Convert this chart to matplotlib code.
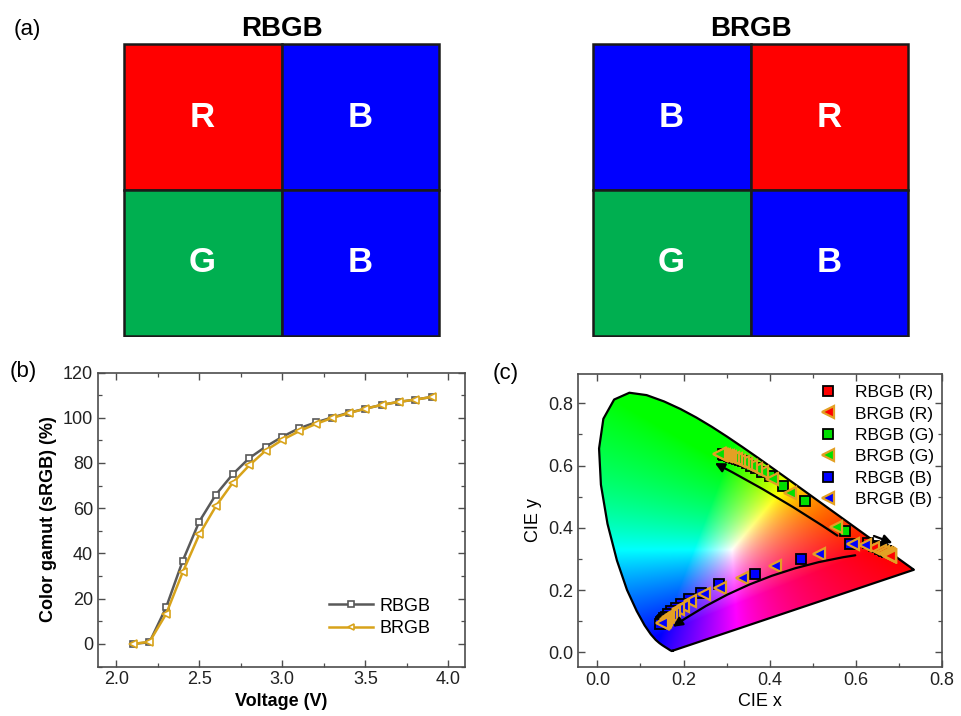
import numpy as np
import matplotlib
matplotlib.use("Agg")
import matplotlib.pyplot as plt
from matplotlib.patches import Rectangle, Polygon, FancyArrowPatch
from matplotlib.ticker import MultipleLocator

plt.rcParams['font.family'] = ['Liberation Sans', 'DejaVu Sans']

# --- (a) pixel layouts ---
layout_titles = ["RBGB", "BRGB"]
layout_cells = [[["R", "B"], ["G", "B"]],
                [["B", "R"], ["G", "B"]]]
cell_colors = {"R": "#FF0000", "G": "#00AF50", "B": "#0000FF"}

# --- (b) color gamut vs voltage ---
voltage = [2.1, 2.2, 2.3, 2.4, 2.5, 2.6, 2.7, 2.8, 2.9, 3.0,
           3.1, 3.2, 3.3, 3.4, 3.5, 3.6, 3.7, 3.8, 3.9]
gamut_rbgb = [0.0, 0.7, 16.1, 36.7, 54.1, 66.0, 74.9, 82.1, 87.2, 91.6,
              95.3, 97.9, 100.1, 102.2, 104.0, 105.7, 107.0, 108.0, 109.2]
gamut_brgb = [0.0, 0.9, 13.2, 31.7, 48.4, 60.9, 71.1, 78.9, 85.5, 90.2,
              94.0, 97.2, 99.9, 102.0, 104.0, 105.7, 107.0, 108.0, 109.2]

# --- (c) CIE 1931 spectral locus, 380-700 nm ---
locus_x = [0.1741, 0.1740, 0.1738, 0.1736, 0.1733, 0.1730, 0.1726, 0.1721, 0.1714,
           0.1703, 0.1689, 0.1669, 0.1644, 0.1611, 0.1566, 0.1510, 0.1440, 0.1355,
           0.1241, 0.1096, 0.0913, 0.0687, 0.0454, 0.0235, 0.0082, 0.0039, 0.0139,
           0.0389, 0.0743, 0.1142, 0.1547, 0.1929, 0.2296, 0.2658, 0.3016, 0.3373,
           0.3731, 0.4087, 0.4441, 0.4788, 0.5125, 0.5448, 0.5752, 0.6029, 0.6270,
           0.6482, 0.6658, 0.6801, 0.6915, 0.7006, 0.7079, 0.7140, 0.7190, 0.7230,
           0.7260, 0.7283, 0.7300, 0.7311, 0.7320, 0.7327, 0.7334, 0.7340, 0.7344,
           0.7346, 0.7347]
locus_y = [0.0050, 0.0050, 0.0049, 0.0049, 0.0048, 0.0048, 0.0048, 0.0048, 0.0051,
           0.0058, 0.0069, 0.0086, 0.0109, 0.0138, 0.0177, 0.0227, 0.0297, 0.0399,
           0.0578, 0.0868, 0.1327, 0.2007, 0.2950, 0.4127, 0.5384, 0.6548, 0.7502,
           0.8120, 0.8338, 0.8262, 0.8059, 0.7816, 0.7543, 0.7243, 0.6923, 0.6589,
           0.6245, 0.5896, 0.5547, 0.5202, 0.4866, 0.4544, 0.4242, 0.3965, 0.3725,
           0.3514, 0.3340, 0.3197, 0.3083, 0.2993, 0.2920, 0.2859, 0.2809, 0.2770,
           0.2740, 0.2717, 0.2700, 0.2689, 0.2680, 0.2673, 0.2666, 0.2660, 0.2656,
           0.2654, 0.2653]

# chromaticity of each sub-pixel with increasing voltage
rbgb_r_x = [0.628, 0.641, 0.650, 0.656, 0.660, 0.663, 0.665, 0.667, 0.668,
            0.669, 0.670, 0.671, 0.672, 0.672, 0.673, 0.673, 0.674]
rbgb_r_y = [0.350, 0.342, 0.337, 0.333, 0.331, 0.329, 0.327, 0.326, 0.325,
            0.325, 0.324, 0.324, 0.323, 0.323, 0.322, 0.322, 0.322]
brgb_r_x = [0.640, 0.656, 0.664, 0.669, 0.672, 0.674, 0.675, 0.676, 0.677,
            0.677, 0.678, 0.678, 0.679, 0.679, 0.679, 0.680, 0.680]
brgb_r_y = [0.334, 0.325, 0.321, 0.318, 0.316, 0.315, 0.314, 0.313, 0.312,
            0.312, 0.311, 0.311, 0.311, 0.310, 0.310, 0.310, 0.310]
rbgb_g_x = [0.574, 0.482, 0.432, 0.400, 0.382, 0.368, 0.357, 0.347, 0.338,
            0.330, 0.323, 0.317, 0.311, 0.306, 0.302, 0.298, 0.295, 0.292]
rbgb_g_y = [0.391, 0.486, 0.534, 0.567, 0.580, 0.591, 0.600, 0.607, 0.613,
            0.618, 0.622, 0.625, 0.628, 0.631, 0.633, 0.634, 0.635, 0.636]
brgb_g_x = [0.553, 0.447, 0.405, 0.382, 0.368, 0.356, 0.346, 0.337, 0.329, 0.322,
            0.315, 0.309, 0.303, 0.298, 0.294, 0.290, 0.287, 0.284, 0.282]
brgb_g_y = [0.402, 0.511, 0.556, 0.578, 0.589, 0.598, 0.605, 0.611, 0.616, 0.620,
            0.624, 0.627, 0.630, 0.632, 0.633, 0.634, 0.635, 0.636, 0.637]
rbgb_b_x = [0.586, 0.473, 0.365, 0.282, 0.241, 0.212, 0.195, 0.182, 0.172,
            0.165, 0.159, 0.155, 0.152, 0.150, 0.148, 0.147, 0.146]
rbgb_b_y = [0.347, 0.300, 0.252, 0.219, 0.191, 0.171, 0.156, 0.143, 0.132,
            0.123, 0.115, 0.109, 0.104, 0.100, 0.096, 0.093, 0.091]
brgb_b_x = [0.621, 0.594, 0.514, 0.413, 0.335, 0.285, 0.247, 0.216, 0.198,
            0.186, 0.177, 0.170, 0.164, 0.160, 0.157, 0.154, 0.152, 0.150]
brgb_b_y = [0.345, 0.348, 0.315, 0.278, 0.240, 0.208, 0.186, 0.165, 0.150,
            0.138, 0.128, 0.120, 0.113, 0.107, 0.102, 0.098, 0.095, 0.093]

# shift arrows: (start, end, curvature)
shift_arrows = [((0.5625, 0.370), (0.267, 0.612), 0.03),
                ((0.605, 0.313), (0.170, 0.077), 0.12),
                ((0.636, 0.377), (0.691, 0.348), 0.0)]

SPINE = "#4d4d4d"
GOLD = "#D8A31A"
ORANGE_EDGE = "#E3A024"

fig = plt.figure(figsize=(9.61, 7.16), dpi=100)
W, H = 961.0, 716.0


def px_axes(l, t, r, b):
    return fig.add_axes([l / W, 1 - b / H, (r - l) / W, (b - t) / H])


# ---------------- (a) ----------------
for k, (l, r) in enumerate([(122, 441), (591, 910)]):
    ax = px_axes(l, 43, r, 337)
    cells = layout_cells[k]
    for i in range(2):
        for j in range(2):
            lab = cells[i][j]
            ax.add_patch(Rectangle((j, 1 - i), 1, 1, facecolor=cell_colors[lab],
                                   edgecolor="#1a1a1a", lw=1.8))
            ax.text(j + 0.5, 1.5 - i, lab, color="white", fontsize=25,
                    fontweight="bold", ha="center", va="center")
    ax.set_xlim(-0.01, 2.01)
    ax.set_ylim(-0.01, 2.01)
    ax.axis("off")
    ax.set_title(layout_titles[k], fontsize=20, fontweight="bold", pad=5)

fig.text(14 / W, 1 - 30 / H, "(a)", fontsize=16, va="center", ha="left")


def style_axes(ax):
    for s in ax.spines.values():
        s.set_color(SPINE)
        s.set_linewidth(1.2)
    ax.tick_params(which="both", direction="in", top=True, right=True,
                   color=SPINE, labelsize=13, labelcolor="#222222")
    ax.tick_params(which="major", length=5, width=1.0)
    ax.tick_params(which="minor", length=3, width=0.9)


# ---------------- (b) ----------------
axb = px_axes(98, 372.5, 465, 666.5)
axb.plot(voltage, gamut_rbgb, color="#595959", lw=1.8, marker="s", ms=5,
         mfc="white", mec="#595959", mew=1.2, label="RBGB")
axb.plot(voltage, gamut_brgb, color=GOLD, lw=1.8, marker="<", ms=6,
         mfc="white", mec=GOLD, mew=1.2, label="BRGB")
axb.set_xlim(1.89, 4.1)
axb.set_ylim(-10, 120)
axb.xaxis.set_major_locator(MultipleLocator(0.5))
axb.xaxis.set_minor_locator(MultipleLocator(0.25))
axb.yaxis.set_major_locator(MultipleLocator(20))
axb.yaxis.set_minor_locator(MultipleLocator(10))
axb.xaxis.set_major_formatter(matplotlib.ticker.FormatStrFormatter("%.1f"))
style_axes(axb)
axb.set_xlabel("Voltage (V)", fontsize=13, fontweight="bold", labelpad=3)
axb.set_ylabel("Color gamut (sRGB) (%)", fontsize=13, fontweight="bold", labelpad=4)
axb.legend(loc="center left", frameon=False, fontsize=13, handlelength=2.45,
           handletextpad=0.35, labelspacing=0.3, borderpad=0, borderaxespad=0,
           markerscale=0.8, bbox_to_anchor=(0.629, 0.167))
fig.text(10 / W, 1 - 372 / H, "(b)", fontsize=16, va="center", ha="left")

# ---------------- (c) ----------------
axc = px_axes(578, 374, 942, 667)

gx = np.linspace(0.0, 0.75, 500)
gy = np.linspace(0.001, 0.85, 560)
XX, YY = np.meshgrid(gx, gy)
Xc = XX / YY
Zc = (1 - XX - YY) / YY
M = np.array([[3.2406, -1.5372, -0.4986],
              [-0.9689, 1.8758, 0.0415],
              [0.0557, -0.2040, 1.0570]])
rgb = np.stack([M[i, 0] * Xc + M[i, 1] + M[i, 2] * Zc for i in range(3)], axis=-1)
rgb = np.clip(rgb, 0, None)
rgb = rgb / np.maximum(rgb.max(axis=-1, keepdims=True), 1e-9)
rgb = np.clip(rgb, 0, 1) ** 0.8

im = axc.imshow(rgb, origin="lower", extent=[gx[0], gx[-1], gy[0], gy[-1]],
                aspect="auto", interpolation="bilinear", zorder=1)
horseshoe = Polygon(np.column_stack([locus_x, locus_y]), closed=True,
                    transform=axc.transData, facecolor="none")
axc.add_patch(horseshoe)
im.set_clip_path(horseshoe)
axc.plot(locus_x + [locus_x[0]], locus_y + [locus_y[0]], color="black", lw=1.6,
         zorder=2)

sq = dict(ls="none", marker="s", ms=6.5, mec="black", mew=1.3, zorder=4)
tri = dict(ls="none", marker="<", ms=8.5, mec=ORANGE_EDGE, mew=1.6, zorder=4)
axc.plot(rbgb_r_x, rbgb_r_y, mfc="#FF0000", label="RBGB (R)", **sq)
axc.plot(brgb_r_x, brgb_r_y, mfc="#FF0000", label="BRGB (R)", **tri)
axc.plot(rbgb_g_x, rbgb_g_y, mfc="#00E000", label="RBGB (G)", **sq)
axc.plot(brgb_g_x, brgb_g_y, mfc="#00E000", label="BRGB (G)", **tri)
axc.plot(rbgb_b_x, rbgb_b_y, mfc="#0000FF", label="RBGB (B)", **sq)
axc.plot(brgb_b_x, brgb_b_y, mfc="#0000FF", label="BRGB (B)", **tri)

for start, end, rad in shift_arrows:
    axc.add_patch(FancyArrowPatch(start, end, arrowstyle="-|>", mutation_scale=14,
                                  connectionstyle=f"arc3,rad={rad}", lw=1.6,
                                  color="black", zorder=5))

axc.set_xlim(-0.045, 0.8)
axc.set_ylim(-0.047, 0.894)
axc.xaxis.set_major_locator(MultipleLocator(0.2))
axc.xaxis.set_minor_locator(MultipleLocator(0.1))
axc.yaxis.set_major_locator(MultipleLocator(0.2))
axc.yaxis.set_minor_locator(MultipleLocator(0.1))
axc.xaxis.set_major_formatter(matplotlib.ticker.FormatStrFormatter("%.1f"))
axc.yaxis.set_major_formatter(matplotlib.ticker.FormatStrFormatter("%.1f"))
style_axes(axc)
axc.set_xlabel("CIE x", fontsize=13, labelpad=3)
axc.set_ylabel("CIE y", fontsize=13, labelpad=4)
axc.legend(loc="center left", frameon=False, fontsize=12.5, handlelength=1.2,
           handletextpad=0.95, labelspacing=0.36, borderpad=0, borderaxespad=0,
           bbox_to_anchor=(0.659, 0.754))
fig.text(493 / W, 1 - 373 / H, "(c)", fontsize=16, va="center", ha="left")

fig.savefig("out.png", dpi=100)
